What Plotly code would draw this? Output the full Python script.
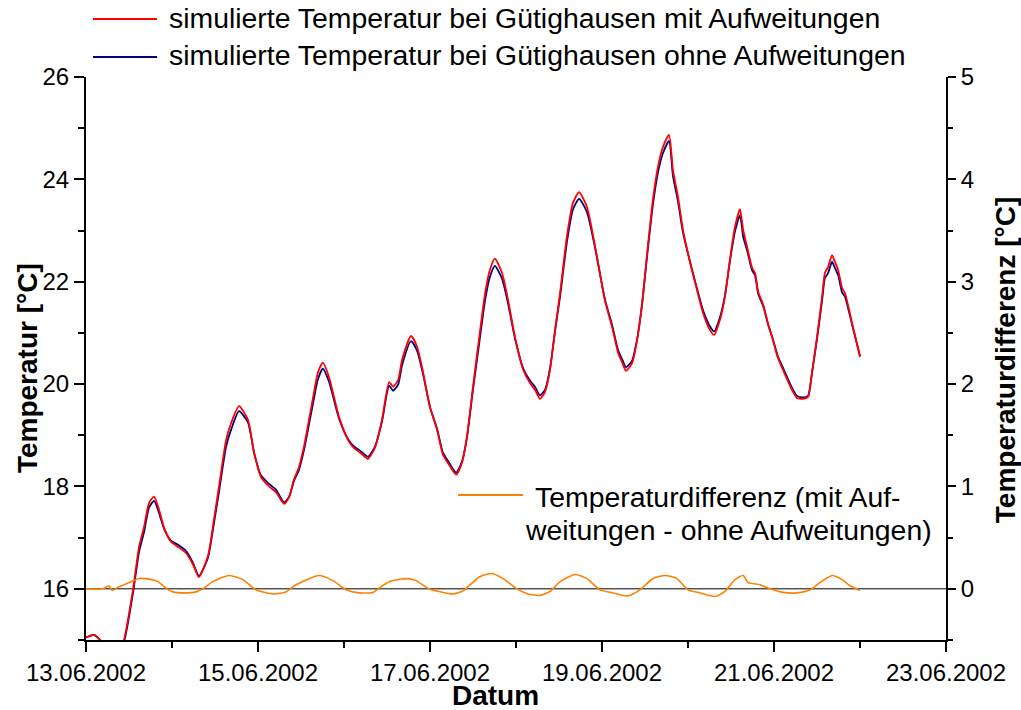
import pandas as pd
import plotly.graph_objects as go

# ---- data (hours since 13.06.2002 00:00) ----
hours_temp = [0, 2.2, 4.2, 6.1, 8.4, 10.6, 13.1, 14.8, 16.2, 17.6, 19.0, 20.4, 21.8, 23.7, 25.7, 27.9, 29.9, 31.5,
              34.0, 35.7, 37.1, 39.1, 40.5, 42.7, 45.2, 46.9, 48.8, 51.1, 53.0, 55.3, 56.7, 58.0, 59.4, 60.8,
              63.4, 64.7, 66.1, 67.8, 70.6, 73.1, 74.8, 76.5, 78.7, 80.7, 82.6, 84.6, 85.7, 87.1, 88.2, 90.7,
              92.4, 94.1, 96.0, 98.0, 99.6, 101.0, 103.3, 104.9, 106.3, 108.0, 110.0, 111.4, 112.7, 114.1,
              116.1, 117.8, 119.7, 122.0, 123.9, 125.3, 126.7, 128.1, 129.5, 130.9, 132.3, 134.2, 135.9, 137.6,
              139.8, 142.1, 144.8, 146.8, 148.5, 149.6, 150.7, 152.4, 153.8, 155.2, 156.6, 158.2, 159.6, 161.0,
              162.7, 163.8, 165.2, 166.6, 168.6, 170.5, 172.2, 174.1, 175.3, 176.9, 178.3, 179.7, 181.1, 182.5,
              183.4, 184.5, 185.9, 186.7, 187.6, 189.0, 190.3, 191.7, 193.1, 194.5, 197.0, 198.4, 200.1, 201.5,
              202.6, 204.0, 205.4, 206.2, 207.1, 208.2, 209.0, 209.9, 211.0, 211.8, 213.8, 216.0]

temp_mit = [15.05, 15.10, 14.98, 14.70, 14.60, 15.00, 15.98, 16.82, 17.21, 17.68, 17.80, 17.54, 17.19, 16.92, 16.82,
            16.70, 16.47, 16.23, 16.63, 17.35, 17.99, 18.91, 19.24, 19.57, 19.30, 18.66, 18.19, 18.00, 17.89,
            17.66, 17.80, 18.13, 18.37, 18.77, 19.75, 20.22, 20.42, 20.14, 19.36, 18.91, 18.75, 18.66, 18.54,
            18.77, 19.30, 20.04, 19.95, 20.08, 20.47, 20.94, 20.73, 20.22, 19.55, 19.10, 18.62, 18.46, 18.23,
            18.46, 18.97, 19.95, 21.06, 21.78, 22.23, 22.45, 22.17, 21.64, 20.92, 20.28, 20.02, 19.89, 19.71,
            19.85, 20.28, 21.06, 21.78, 22.88, 23.54, 23.75, 23.46, 22.68, 21.64, 21.12, 20.61, 20.43, 20.26,
            20.41, 20.86, 21.58, 22.56, 23.60, 24.24, 24.63, 24.87, 24.18, 23.66, 23.01, 22.37, 21.84, 21.39,
            21.06, 20.96, 21.25, 21.70, 22.43, 23.07, 23.42, 23.01, 22.68, 22.27, 22.17, 21.80, 21.55, 21.19,
            20.86, 20.51, 20.28, 19.89, 19.73, 19.71, 19.75, 20.22, 20.92, 21.70, 22.17, 22.29, 22.52, 22.39,
            22.23, 21.88, 21.78, 21.19, 20.53]

temp_ohne = [15.05, 15.10, 14.98, 14.68, 14.60, 14.96, 15.91, 16.72, 17.11, 17.59, 17.72, 17.48, 17.17, 16.94, 16.86,
             16.74, 16.50, 16.25, 16.60, 17.28, 17.89, 18.78, 19.11, 19.47, 19.25, 18.66, 18.22, 18.05, 17.94,
             17.69, 17.80, 18.10, 18.32, 18.70, 19.64, 20.09, 20.30, 20.05, 19.33, 18.93, 18.78, 18.70, 18.58,
             18.79, 19.27, 19.97, 19.87, 19.99, 20.37, 20.84, 20.65, 20.18, 19.55, 19.12, 18.66, 18.50, 18.27,
             18.48, 18.95, 19.89, 20.94, 21.65, 22.09, 22.31, 22.06, 21.57, 20.90, 20.31, 20.07, 19.95, 19.78,
             19.89, 20.31, 21.04, 21.71, 22.77, 23.41, 23.62, 23.36, 22.65, 21.66, 21.16, 20.66, 20.49, 20.33,
             20.46, 20.88, 21.57, 22.51, 23.50, 24.13, 24.51, 24.75, 24.07, 23.57, 22.96, 22.38, 21.87, 21.44,
             21.13, 21.03, 21.30, 21.73, 22.40, 22.98, 23.30, 22.88, 22.61, 22.22, 22.13, 21.76, 21.52, 21.18,
             20.87, 20.54, 20.32, 19.93, 19.77, 19.74, 19.77, 20.22, 20.88, 21.62, 22.07, 22.17, 22.39, 22.27,
             22.13, 21.79, 21.71, 21.16, 20.55]

hours_diff = [0, 4.7, 6.4, 7.3, 9.2, 12.0, 14.8, 17.6, 20.1, 22.3, 24.3, 27.3, 30.7, 32.9, 35.4, 39.9, 43.8, 47.4,
              52.5, 55.8, 58.6, 65.0, 68.9, 72.6, 76.2, 80.1, 81.8, 84.6, 89.3, 92.1, 95.7, 98.5, 102.4, 105.2,
              107.2, 110.0, 113.3, 116.4, 120.3, 123.3, 126.7, 129.5, 132.3, 136.5, 139.8, 143.4, 147.1, 151.0,
              154.6, 158.2, 161.6, 164.9, 168.0, 171.3, 175.6, 178.3, 181.1, 183.4, 184.8, 188.1, 190.9, 194.5,
              198.4, 202.1, 204.8, 208.2, 211.0, 213.2, 216.0]

temp_diff = [0.0, 0.0, 0.03, -0.016, 0.02, 0.06, 0.10, 0.095, 0.07, 0.007, -0.03, -0.04, -0.03, 0.007, 0.07, 0.13,
             0.09, -0.01, -0.05, -0.03, 0.04, 0.13, 0.08, -0.01, -0.04, -0.035, 0.007, 0.07, 0.10, 0.08, 0.0,
             -0.026, -0.05, -0.02, 0.04, 0.12, 0.15, 0.10, 0.0, -0.05, -0.065, -0.026, 0.07, 0.14, 0.10, -0.01,
             -0.04, -0.07, -0.01, 0.10, 0.13, 0.10, -0.01, -0.04, -0.075, -0.026, 0.09, 0.13, 0.06, 0.04, 0.0,
             -0.035, -0.04, -0.01, 0.06, 0.13, 0.09, 0.03, -0.016]

name_mit = "simulierte Temperatur bei Gütighausen mit Aufweitungen"
name_ohne = "simulierte Temperatur bei Gütighausen ohne Aufweitungen"
diff_line1 = "Temperaturdifferenz (mit Auf-"
diff_line2 = "weitungen - ohne Aufweitungen)"

start = pd.Timestamp("2002-06-13")
t_temp = start + pd.to_timedelta(hours_temp, unit="h")
t_diff = start + pd.to_timedelta(hours_diff, unit="h")

FONT = "Liberation Sans, Arial, sans-serif"

fig = go.Figure()
fig.add_trace(go.Scatter(x=t_temp, y=temp_ohne, mode="lines", name=name_ohne,
                         line=dict(color="#000080", width=1.8, shape="spline", smoothing=0.6), showlegend=False))
fig.add_trace(go.Scatter(x=t_temp, y=temp_mit, mode="lines", name=name_mit,
                         line=dict(color="#ff0000", width=1.8, shape="spline", smoothing=0.6), showlegend=False))
fig.add_trace(go.Scatter(x=t_diff, y=temp_diff, mode="lines", name="Temperaturdifferenz", yaxis="y2",
                         line=dict(color="#ff8000", width=1.6, shape="spline", smoothing=0.6), showlegend=False))

# zero line of difference axis
fig.add_shape(type="line", xref="paper", x0=0, x1=1, yref="y2", y0=0, y1=0,
              line=dict(color="black", width=1), layer="below")

# custom legend
fig.add_shape(type="line", xref="paper", yref="paper", x0=0.00814, x1=0.0826, y0=1.103, y1=1.103,
              line=dict(color="#ff0000", width=2))
fig.add_shape(type="line", xref="paper", yref="paper", x0=0.00814, x1=0.0826, y0=1.0355, y1=1.0355,
              line=dict(color="#000080", width=2))
fig.add_shape(type="line", xref="paper", yref="paper", x0=0.4326, x1=0.5081, y0=0.2575, y1=0.2575,
              line=dict(color="#ff8000", width=2))

ann_font = dict(family=FONT, size=28.4, color="black")
title_font = dict(family=FONT, size=28, color="black")
fig.add_annotation(text=name_mit, xref="paper", yref="paper", x=0.0942, y=1.1048,
                   xanchor="left", yanchor="middle", showarrow=False, font=ann_font)
fig.add_annotation(text=name_ohne, xref="paper", yref="paper", x=0.0942, y=1.039,
                   xanchor="left", yanchor="middle", showarrow=False, font=ann_font)
fig.add_annotation(text=diff_line1, xref="paper", yref="paper", x=0.5198, y=0.254,
                   xanchor="left", yanchor="middle", showarrow=False, font=ann_font)
fig.add_annotation(text=diff_line2, xref="paper", yref="paper", x=0.5081, y=0.1954,
                   xanchor="left", yanchor="middle", showarrow=False, font=ann_font)

# axis titles
fig.add_annotation(text="<b>Temperatur [°C]</b>", xref="paper", yref="paper", x=-0.0686, y=0.483,
                   textangle=-90, showarrow=False, xanchor="center", yanchor="middle", font=title_font)
fig.add_annotation(text="<b>Temperaturdifferenz [°C]</b>", xref="paper", yref="paper", x=1.0686, y=0.497,
                   textangle=-90, showarrow=False, xanchor="center", yanchor="middle", font=title_font)
fig.add_annotation(text="<b>Datum</b>", xref="paper", yref="paper", x=0.4756, y=-0.1243, height=26,
                   showarrow=False, xanchor="center", yanchor="bottom", font=title_font)

tick_font = dict(family=FONT, size=24, color="black")
DAY = 86400000

fig.update_layout(
    width=1021, height=710,
    margin=dict(l=86, r=75, t=77, b=70),
    paper_bgcolor="white", plot_bgcolor="white",
    showlegend=False,
    xaxis=dict(range=["2002-06-13", "2002-06-23"], type="date", tick0="2002-06-13", dtick=2 * DAY,
               tickformat="%d.%m.%Y", showgrid=False, zeroline=False, showline=True, linecolor="black",
               linewidth=2, ticks="outside", ticklen=10, tickwidth=2, tickcolor="black", tickfont=tick_font,
               minor=dict(dtick=DAY, ticks="outside", ticklen=6, tickwidth=2, tickcolor="black")),
    yaxis=dict(range=[15, 26], dtick=2, tick0=16, showgrid=False, zeroline=False, showline=True,
               linecolor="black", linewidth=2, ticks="outside", ticklen=10, tickwidth=2, tickcolor="black",
               tickfont=tick_font,
               minor=dict(dtick=1, ticks="outside", ticklen=6, tickwidth=2, tickcolor="black")),
    yaxis2=dict(range=[-0.5, 5], dtick=1, tick0=0, overlaying="y", side="right", showgrid=False,
                zeroline=False, showline=True, linecolor="black", linewidth=2, ticks="outside", ticklen=8,
                tickwidth=2, tickcolor="black", tickfont=tick_font,
                minor=dict(dtick=0.5, ticks="outside", ticklen=5, tickwidth=2, tickcolor="black")),
)

# remove the default page margin so the 1021x710 figure fills the browser window exactly
fig.write_html("out.html", config={"displayModeBar": False, "staticPlot": True},
               post_script="document.body.style.margin='0';document.body.style.overflow='hidden';")
